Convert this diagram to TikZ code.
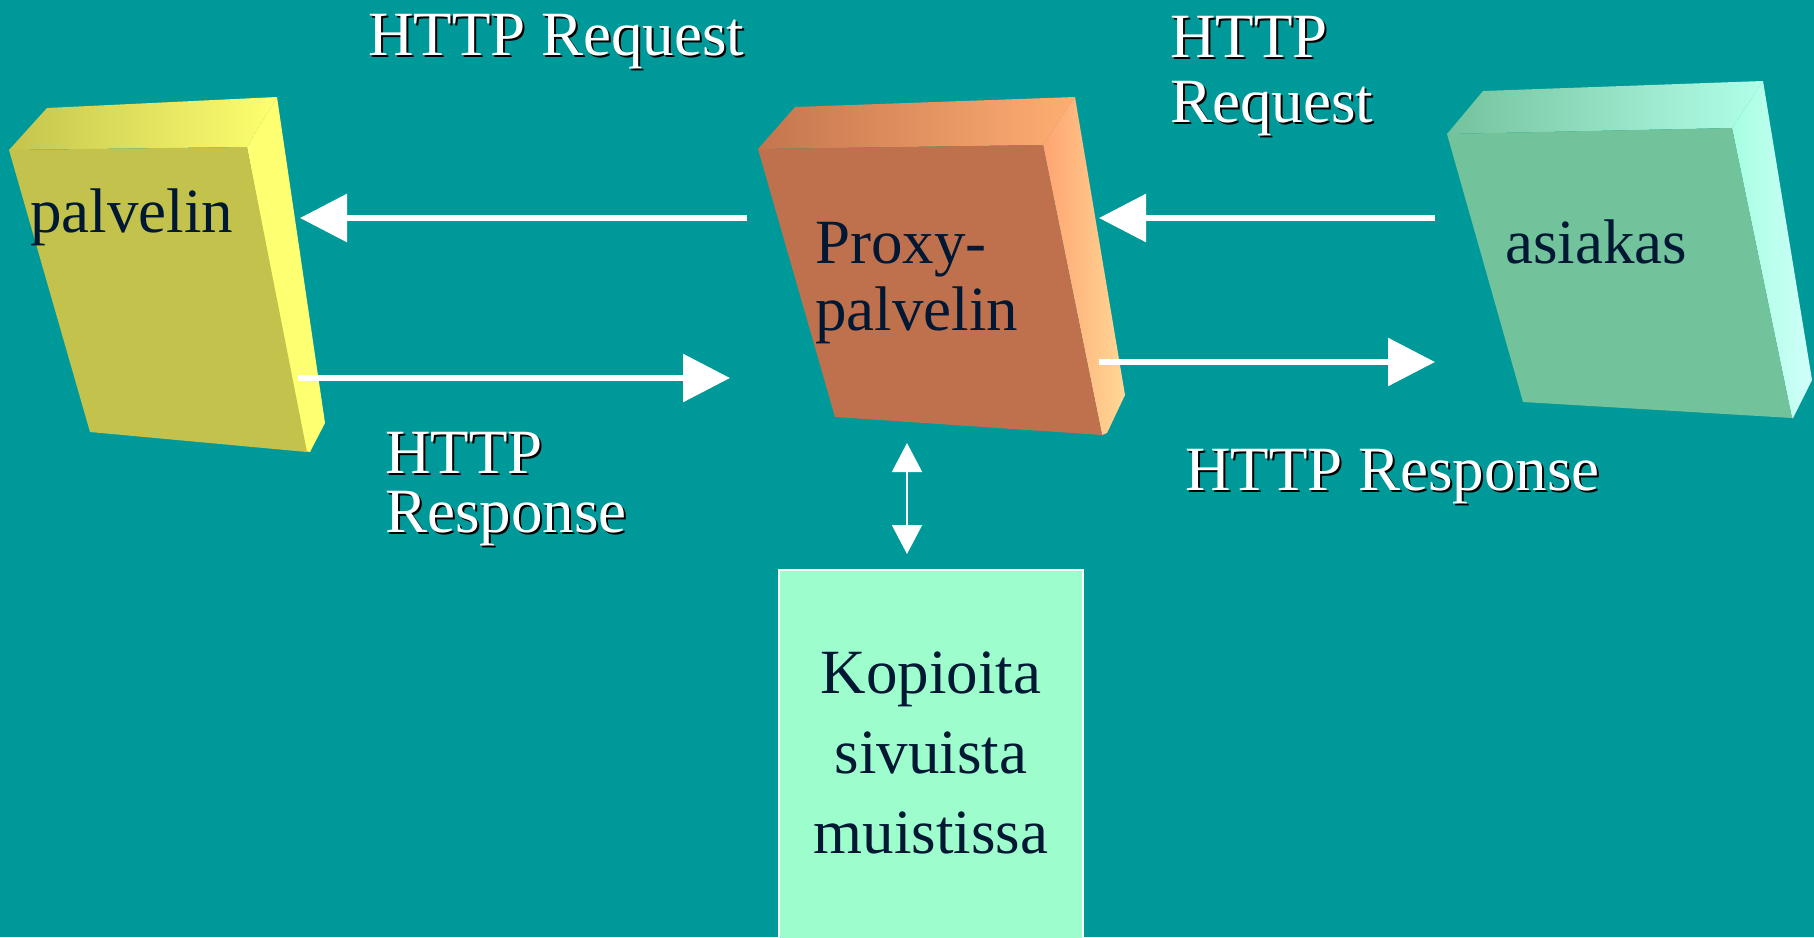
\documentclass[tikz,border=0pt]{standalone}
\usepackage{fontspec}
\setmainfont{Liberation Serif}
\usetikzlibrary{arrows.meta}
\definecolor{bg}{HTML}{009999}
\definecolor{ink}{RGB}{0,24,51}
\definecolor{yfront}{HTML}{C2C24C}
\definecolor{ytopL}{HTML}{C4C44E}
\definecolor{ytopR}{HTML}{FFFF70}
\definecolor{yside}{HTML}{FFFF72}
\definecolor{pfront}{HTML}{BF714D}
\definecolor{ptopL}{HTML}{C4754E}
\definecolor{ptopR}{HTML}{FFAE72}
\definecolor{psideL}{HTML}{FFA470}
\definecolor{psideR}{HTML}{FFD896}
\definecolor{gfront}{HTML}{72C29B}
\definecolor{gtopL}{HTML}{74C29C}
\definecolor{gtopR}{HTML}{B2FFEA}
\definecolor{gsideL}{HTML}{A6FFE0}
\definecolor{gsideR}{HTML}{D0FFFA}
\definecolor{cachefill}{HTML}{9EFDCD}
\newcommand\labelfont{\fontsize{63}{70}\selectfont}
\tikzset{
  lbl/.style={text=white, font=\labelfont, inner sep=0pt, anchor=base west},
  lblshadow/.style={text=black, font=\labelfont, inner sep=0pt, anchor=base west},
  boxtxt/.style={text=ink, font=\labelfont, inner sep=0pt, anchor=base west},
  cachetxt/.style={text=ink, font=\labelfont, inner sep=0pt, anchor=base},
  flow/.style={draw=white, line width=6pt, -{Triangle[length=47pt,width=47pt]}},
  cachelink/.style={draw=white, line width=2pt, {Triangle[length=29pt,width=30pt]}-{Triangle[length=29pt,width=30pt]}},
}
\newcommand\httplabel[4]{%
  \node[lblshadow] (#1-sh) at (#2+2,#3+2) {#4};
  \node[lbl] (#1) at (#2,#3) {#4};}
\begin{document}
\begin{tikzpicture}[x=1pt,y=-1pt]
\useasboundingbox (0,0) rectangle (1814,937);
\fill[bg] (0,0) rectangle (1814,937);

% palvelin box
\shade[left color=ytopL, right color=ytopR] (9,150) -- (47,108) -- (277,97) -- (247,147) -- cycle;
\fill[yside] (247,147) -- (277,97) -- (325,423) -- (310,452) -- (305,451) -- cycle;
\fill[yfront] (9,150) -- (247,147) -- (307,452) -- (90,432) -- cycle;
\node[boxtxt] (palvelin) at (30,232) {palvelin};

% proxy box
\shade[left color=ptopL, right color=ptopR] (758,149) -- (795,107) -- (1075,97) -- (1043,145) -- cycle;
\shade[left color=psideL, right color=psideR] (1043,145) -- (1075,97) -- (1125,395) -- (1107,433) -- (1102,435) -- cycle;
\fill[pfront] (758,149) -- (1043,145) -- (1102,435) -- (835,417) -- cycle;
\node[boxtxt] (proxy1) at (815,263) {Proxy-};
\node[boxtxt] (proxy2) at (815,330) {palvelin};

% asiakas box
\shade[left color=gtopL, right color=gtopR] (1447,134) -- (1483,91) -- (1763,81) -- (1732,128) -- cycle;
\shade[left color=gsideL, right color=gsideR] (1732,128) -- (1763,81) -- (1812,380) -- (1793,418) -- (1792,418) -- cycle;
\fill[gfront] (1447,134) -- (1732,128) -- (1792,418) -- (1523,402) -- cycle;
\node[boxtxt] (asiakas) at (1505,263) {asiakas};

% cache box
\draw[white, line width=1.5pt, fill=cachefill] (779,570) rectangle (1083,945);
\node[cachetxt] (cache1) at (931,693) {Kopioita};
\node[cachetxt] (cache2) at (931,773) {sivuista};
\node[cachetxt] (cache3) at (931,853) {muistissa};

% connector end points
\coordinate (reqL-from) at (747,218);
\coordinate (reqL-to) at (300,218);
\coordinate (resL-from) at (298,378);
\coordinate (resL-to) at (730,378);
\coordinate (reqR-from) at (1435,218);
\coordinate (reqR-to) at (1099,218);
\coordinate (resR-from) at (1099,362);
\coordinate (resR-to) at (1435,362);
\coordinate (link-top) at (907,443);
\coordinate (link-bot) at (907,554);

\draw[flow] (reqL-from) -- (reqL-to);
\draw[flow] (resL-from) -- (resL-to);
\draw[flow] (reqR-from) -- (reqR-to);
\draw[flow] (resR-from) -- (resR-to);
\draw[cachelink] (link-top) -- (link-bot);

% labels
\httplabel{reqLa}{368}{55}{HTTP Request}
\httplabel{reqRa}{1170}{57}{HTTP}
\httplabel{reqRb}{1170}{122}{Request}
\httplabel{resLa}{385}{473}{HTTP}
\httplabel{resLb}{385}{532}{Response}
\httplabel{resRa}{1185}{490}{HTTP Response}
\end{tikzpicture}
\end{document}
